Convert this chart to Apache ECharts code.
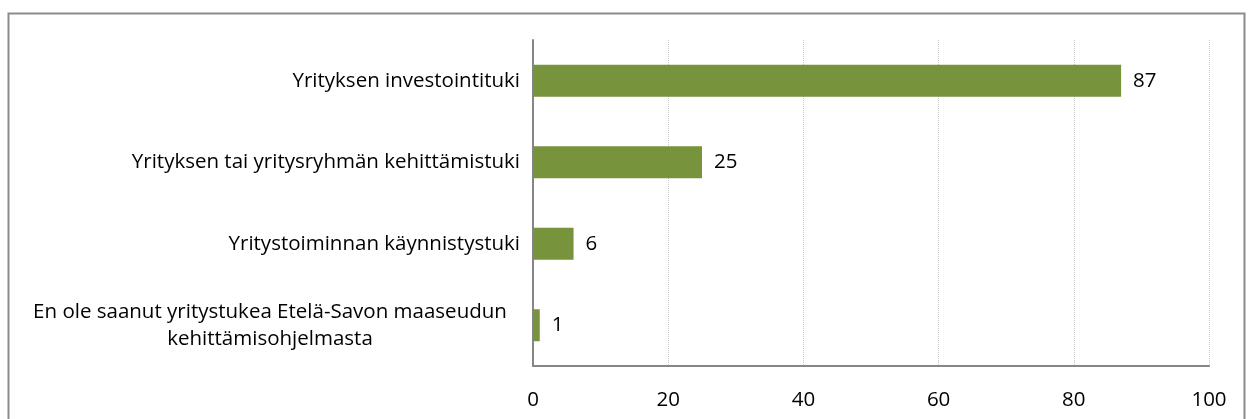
<!DOCTYPE html>
<html><head><meta charset="utf-8">
<script src="https://cdn.jsdelivr.net/npm/echarts@6/dist/echarts.min.js"></script>
<style>html,body{margin:0;padding:0;background:#fff}#c{width:1253px;height:419px}</style>
</head><body><div id="c"></div>
<script>
const categories = ["Yrityksen investointituki","Yrityksen tai yritysryhmän kehittämistuki","Yritystoiminnan käynnistystuki","En ole saanut yritystukea Etelä-Savon maaseudun kehittämisohjelmasta"];
const values = [87, 25, 6, 1];
const xTicks = [0, 20, 40, 60, 80, 100];

const chart = echarts.init(document.getElementById('c'));
const FONT = 'Open Sans';
const FS = 20.5;
chart.setOption({
  animation: false,
  graphic: [{type:'rect', shape:{x:8.5,y:13.5,width:1236,height:420}, style:{fill:'none',stroke:'#8c8c8c',lineWidth:2}}],
  grid: {left: 533, right: 44, top: 40, bottom: 53},
  xAxis: {
    type: 'value', min: xTicks[0], max: xTicks[xTicks.length-1], interval: 20,
    axisLine: {show: true, lineStyle: {color: '#868686', width: 2}},
    axisTick: {show: false},
    splitLine: {show: true, lineStyle: {color: '#c8c8c8', type: 'dotted', width: 1}},
    axisLabel: {color: '#000', fontFamily: FONT, fontSize: FS, margin: 24}
  },
  yAxis: {
    type: 'category', inverse: true, data: categories,
    axisLine: {show: true, lineStyle: {color: '#868686', width: 2}},
    axisTick: {show: false},
    axisLabel: {
      color: '#000', fontFamily: FONT, fontSize: FS, margin: 13, lineHeight: 27,
      formatter: function(v){
        if (v.indexOf('En ole') === 0) {
          return '{w|En ole saanut yritystukea Etelä-Savon maaseudun}\n{w|kehittämisohjelmasta}';
        }
        return v;
      },
      rich: {w: {width: 500, align: 'center', fontFamily: FONT, fontSize: FS, color: '#000', lineHeight: 27}}
    }
  },
  series: [{
    type: 'bar', data: values, barWidth: 32,
    itemStyle: {color: '#77933c'},
    label: {show: true, position: 'right', distance: 12, color: '#000', fontFamily: FONT, fontSize: FS}
  }]
});
</script></body></html>
